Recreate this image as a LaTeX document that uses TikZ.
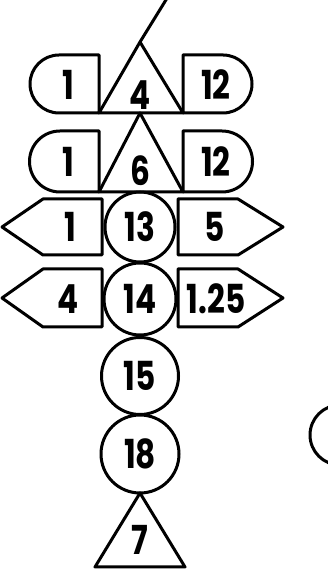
\documentclass[tikz,border=0pt]{standalone}
\usepackage{fontspec}
\setmainfont{Poppins}[FakeStretch=0.78]
\begin{document}
\begin{tikzpicture}[x=1pt,y=1pt,line width=3pt,line join=round,
  lbl/.style={font=\fontsize{40}{40}\selectfont\bfseries,inner sep=0pt},
  circ/.style={lbl,circle,draw}]
\useasboundingbox (0,0) rectangle (327,577);
% top connector into first triangle
\coordinate (top) at (169,582);
\coordinate (a1) at (140,535);
\draw (top) -- (a1);
% row 1
\draw (a1) -- (183,464) -- (99,464) -- cycle;
\node[lbl] (t4) at (140,482) {4};
\draw (99,522) -- (59,522) arc(90:270:29) -- (99,464) -- cycle;
\node[lbl] (l1) at (68,492) {1};
\draw (183,522) -- (223,522) arc(90:-90:29) -- (183,464) -- cycle;
\node[lbl] (r1) at (216,492) {12};
% row 2
\coordinate (a2) at (140,464);
\draw (a2) -- (183,385) -- (99,385) -- cycle;
\node[lbl] (t6) at (140,406) {6};
\draw (99,446) -- (60,446) arc(90:270:30.5) -- (99,385) -- cycle;
\node[lbl] (l2) at (68,415) {1};
\draw (183,446) -- (222,446) arc(90:-90:30.5) -- (183,385) -- cycle;
\node[lbl] (r2) at (216,415) {12};
% row 3
\node[circ,minimum size=70pt] (c13) at (140,350) {13};
\draw (102,378) -- (43,378) -- (2,350) -- (43,322) -- (102,322) -- cycle;
\node[lbl] (l3) at (70,350) {1};
\draw (178,378) -- (238,378) -- (283,350) -- (238,322) -- (178,322) -- cycle;
\node[lbl] (r3) at (215,350) {5};
% row 4
\node[circ,minimum size=72pt] (c14) at (140,278) {14};
\draw (102,308) -- (43,308) -- (2,279) -- (43,250) -- (102,250) -- cycle;
\node[lbl] (l4) at (68,278) {4};
\draw (178,308) -- (238,308) -- (283,279) -- (238,250) -- (178,250) -- cycle;
\node[lbl] (r4) at (216,278) {1.25};
% lower column
\node[circ,minimum size=77pt] (c15) at (140,201) {15};
\node[circ,minimum size=78pt] (c18) at (140,123) {18};
\draw (140,84) -- (185,10) -- (95,10) -- cycle;
\node[lbl] (t7) at (140,37) {7};
% partial circle at right edge
\node[circle,draw,minimum size=60pt] (cr) at (340,142) {};
\end{tikzpicture}
\end{document}
